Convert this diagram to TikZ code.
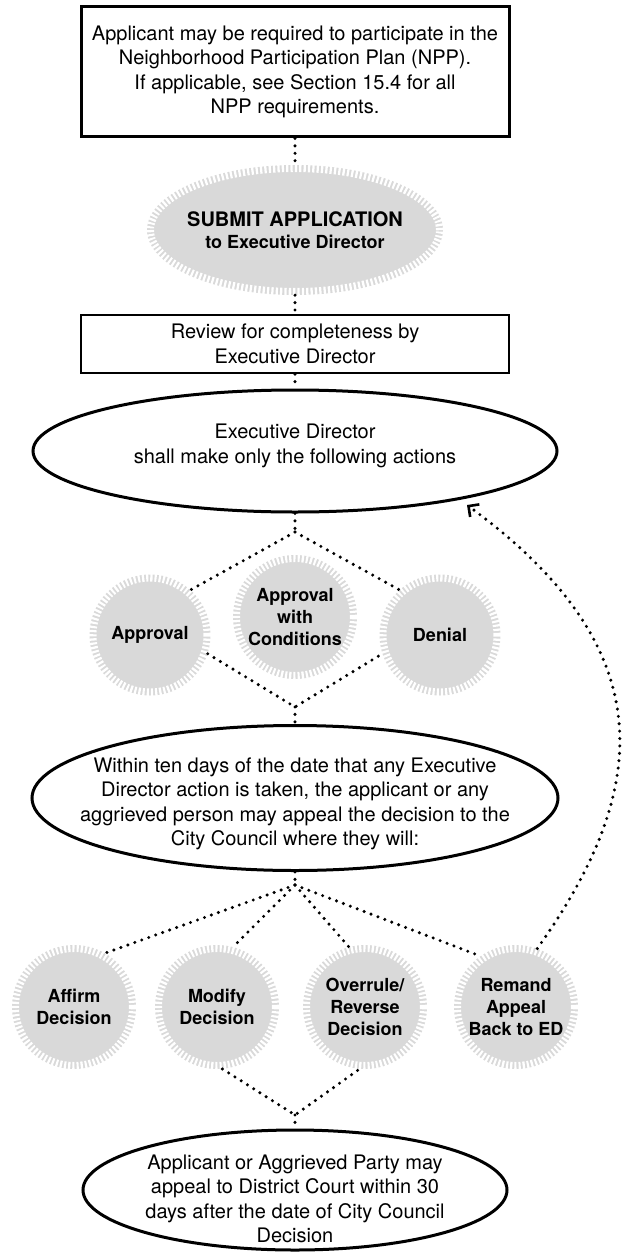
\documentclass[tikz,border=0pt]{standalone}
\usepackage{fontspec}
\setmainfont{TeX Gyre Heros}
\usepackage{xcolor}
\usepackage{tikz}
\usetikzlibrary{shapes.geometric,arrows.meta}
\definecolor{gearfill}{RGB}{217,217,217}

\begin{document}
\begin{tikzpicture}[x=1pt, y=-1pt,
  txt/.style={align=center, font=\fontsize{20}{24.5}\selectfont},
  stepbox/.style={draw, rectangle, line width=3pt, minimum width=428pt, inner sep=2pt, txt},
  oval/.style={draw, ellipse, line width=3pt, inner sep=0pt},
  gear/.style={circle, fill=gearfill, inner sep=0pt, minimum size=124pt, align=center,
    font=\bfseries\fontsize{18}{22}\selectfont,
    postaction={draw=white, line width=14pt, dash pattern=on 2.3pt off 2.1pt}},
  dotline/.style={line width=3.4pt, line cap=round, dash pattern=on 0pt off 7.4pt}]
\useasboundingbox (0,0) rectangle (621,1252);

% BOXES AND OVALS
  \node[stepbox, minimum height=130pt] (npp) at (295,72)
    {Applicant may be required to participate in the\\Neighborhood Participation Plan (NPP).\\If applicable, see Section 15.4 for all\\NPP requirements.};
  \node[gear, ellipse, minimum width=296pt, minimum height=130pt, inner xsep=-12pt] (submit) at (295,230)
    {{\fontsize{20}{22}\selectfont SUBMIT APPLICATION}\\to Executive Director};
  \node[stepbox, line width=2.5pt, minimum height=58pt] (review) at (295,344)
    {Review for completeness by\\Executive Director};
  \node[oval, minimum width=524pt, minimum height=122pt,
    label={[txt, yshift=5pt]center:Executive Director\\shall make only the following actions}] (ed) at (295,451) {};

% ED ACTIONS
  \node[gear, minimum size=121pt] (approval) at (150,635) {Approval};
  \node[gear] (conditions) at (295,617) {Approval\\with\\Conditions};
  \node[gear, minimum size=121pt] (denial) at (440,635) {Denial};

% APPEAL
  \node[oval, minimum width=526pt, minimum height=145pt,
    label={[txt, yshift=-6pt]center:Within ten days of the date that any Executive\\Director action is taken, the applicant or any\\aggrieved person may appeal the decision to the\\City Council where they will:}] (appeal) at (295,798) {};

% COUNCIL ACTIONS
  \node[gear] (affirm) at (74,1007) {Affirm\\Decision};
  \node[gear] (modify) at (217,1007) {Modify\\Decision};
  \node[gear] (overrule) at (365,1007) {Overrule/\\Reverse\\Decision};
  \node[gear] (remand) at (516,1007) {Remand\\Appeal\\Back to ED};

  \node[oval, minimum width=424pt, minimum height=120pt,
    label={[txt, yshift=-9pt]center:Applicant or Aggrieved Party may\\appeal to District Court within 30\\days after the date of City Council\\Decision}] (court) at (295,1190) {};

% JOINS
  \coordinate (j1) at (295,532);
  \coordinate (j2) at (295,707);
  \coordinate (j3) at (295,885);
  \coordinate (j4) at (295,1115);
  \coordinate (back) at (467,505);

% CONNECTORS
  \draw[dotline] (npp) -- (submit);
  \draw[dotline] (submit) -- (review);
  \draw[dotline] (review) -- (ed);
  \draw[dotline] (ed) -- (j1);
  \draw[dotline] (j1) -- (approval.48);
  \draw[dotline] (j1) -- (denial.132);
  \draw[dotline] (approval.-18) -- (j2) -- (denial.198);
  \draw[dotline] (j2) -- (appeal);
  \draw[dotline] (appeal) -- (j3);
  \foreach \n/\a in {affirm/60, modify/75, overrule/105, remand/125}
      \draw[dotline] (j3) -- (\n.\a);
  \draw[dotline] (modify.-85) -- (j4) -- (overrule.-95);
  \draw[dotline] (j4) -- (court);
  \draw[dotline, -{Straight Barb[angle=90:11pt, line width=2.6pt]}]
    (remand.70) .. controls (650,790) and (665,650) .. (back);

\end{tikzpicture}
\end{document}
